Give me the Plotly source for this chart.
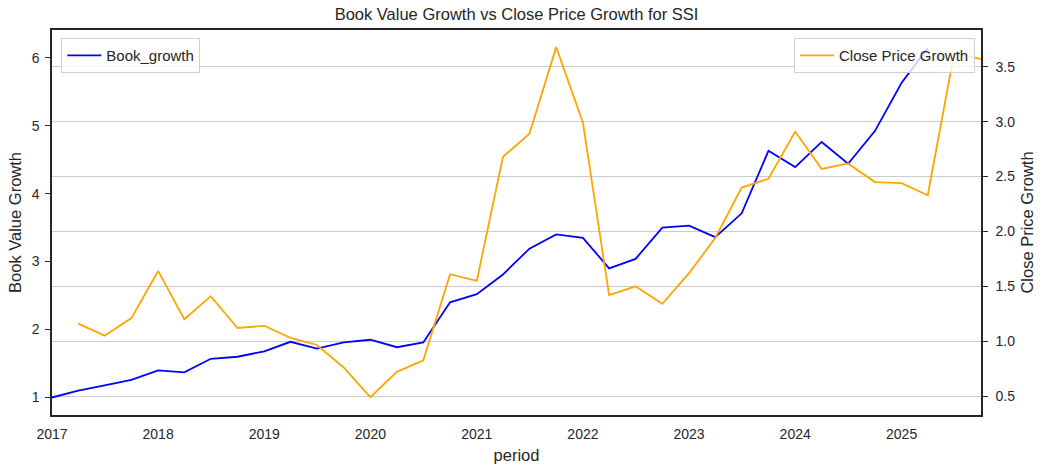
import plotly.graph_objects as go

# ---- data (quarterly) ----
periods = [
    "2017-01-01", "2017-04-01", "2017-07-01", "2017-10-01",
    "2018-01-01", "2018-04-01", "2018-07-01", "2018-10-01",
    "2019-01-01", "2019-04-01", "2019-07-01", "2019-10-01",
    "2020-01-01", "2020-04-01", "2020-07-01", "2020-10-01",
    "2021-01-01", "2021-04-01", "2021-07-01", "2021-10-01",
    "2022-01-01", "2022-04-01", "2022-07-01", "2022-10-01",
    "2023-01-01", "2023-04-01", "2023-07-01", "2023-10-01",
    "2024-01-01", "2024-04-01", "2024-07-01", "2024-10-01",
    "2025-01-01", "2025-04-01", "2025-07-01", "2025-10-01",
]
book_growth = [
    1.00, 1.10, 1.18, 1.26, 1.40, 1.37, 1.57, 1.60, 1.68, 1.82,
    1.72, 1.81, 1.85, 1.74, 1.81, 2.40, 2.52, 2.81, 3.19, 3.40,
    3.35, 2.90, 3.04, 3.50, 3.53, 3.36, 3.71, 4.63, 4.39, 4.76,
    4.44, 4.92, 5.63, 6.14, None, None,
]
close_growth = [
    None, 1.16, 1.05, 1.21, 1.64, 1.20, 1.41, 1.12, 1.14, 1.03,
    0.965, 0.76, 0.49, 0.72, 0.825, 1.61, 1.55, 2.68, 2.89, 3.68,
    2.99, 1.42, 1.50, 1.34, 1.62, 1.94, 2.40, 2.48, 2.91, 2.57,
    2.62, 2.45, 2.44, 2.33, 3.63, 3.57,
]
year_ticks = ["2017", "2018", "2019", "2020", "2021", "2022", "2023", "2024", "2025"]

TXT = "#262626"
FONT = "Liberation Sans, Arial, sans-serif"

fig = go.Figure()
fig.add_trace(go.Scatter(
    x=periods, y=book_growth, mode="lines", name="Book_growth",
    line=dict(color="blue", width=1.8), yaxis="y", legend="legend",
    connectgaps=False,
))
fig.add_trace(go.Scatter(
    x=periods, y=close_growth, mode="lines", name="Close Price Growth",
    line=dict(color="orange", width=1.8), yaxis="y2", legend="legend2",
    connectgaps=False,
))

fig.update_layout(
    width=1047, height=473,
    margin=dict(l=52, r=66, t=30, b=58, autoexpand=False),
    paper_bgcolor="white", plot_bgcolor="white",
    font=dict(family=FONT, size=14, color=TXT),
    title=dict(text="Book Value Growth vs Close Price Growth for SSI",
               x=(52 + 981) / 2 / 1047, xanchor="center",
               y=1 - 14 / 473, yanchor="middle", yref="container",
               automargin=False,
               font=dict(size=16.5, color=TXT)),
    xaxis=dict(
        type="date", automargin=False,
        range=["2017-01-01", "2025-10-01"],
        tickvals=[y + "-01-01" for y in year_ticks],
        ticktext=year_ticks,
        showgrid=False, zeroline=False,
        showline=True, linecolor=TXT, linewidth=1.5, mirror=True,
        ticks="", ticklen=0, ticklabelstandoff=5,
        title=dict(text="period", font=dict(size=16.5, color=TXT), standoff=9),
        tickfont=dict(size=14, color=TXT),
    ),
    yaxis=dict(
        automargin=False,
        range=[0.743, 6.407],
        tickvals=[1, 2, 3, 4, 5, 6],
        showgrid=False, zeroline=False,
        showline=True, linecolor=TXT, linewidth=1.5,
        ticks="outside", ticklen=5, tickwidth=1.3, tickcolor=TXT,
        ticklabelstandoff=3,
        title=dict(text="Book Value Growth", font=dict(size=16.5, color=TXT), standoff=6),
        tickfont=dict(size=14, color=TXT),
    ),
    yaxis2=dict(
        overlaying="y", side="right", automargin=False,
        range=[0.327, 3.836],
        tickvals=[0.5, 1.0, 1.5, 2.0, 2.5, 3.0, 3.5],
        tickformat=".1f",
        showgrid=True, gridcolor="#cccccc", gridwidth=1,
        zeroline=False,
        showline=True, linecolor=TXT, linewidth=1.5,
        ticks="outside", ticklen=5, tickwidth=1.3, tickcolor=TXT,
        ticklabelstandoff=5,
        title=dict(text="Close Price Growth", font=dict(size=16.5, color=TXT), standoff=7),
        tickfont=dict(size=14, color=TXT),
    ),
    legend=dict(
        x=0.01, y=0.979, xanchor="left", yanchor="top",
        bgcolor="rgba(255,255,255,0.8)", bordercolor="#d0d0d0", borderwidth=1,
        font=dict(size=15, color=TXT), itemwidth=34,
    ),
    legend2=dict(
        x=0.9935, y=0.979, xanchor="right", yanchor="top",
        bgcolor="rgba(255,255,255,0.8)", bordercolor="#d0d0d0", borderwidth=1,
        font=dict(size=15, color=TXT), itemwidth=34,
    ),
    showlegend=True,
)

fig.write_html(
    "out.html",
    config={"displayModeBar": False},
    post_script="document.body.style.margin='0px';document.body.style.overflow='hidden';",
)
